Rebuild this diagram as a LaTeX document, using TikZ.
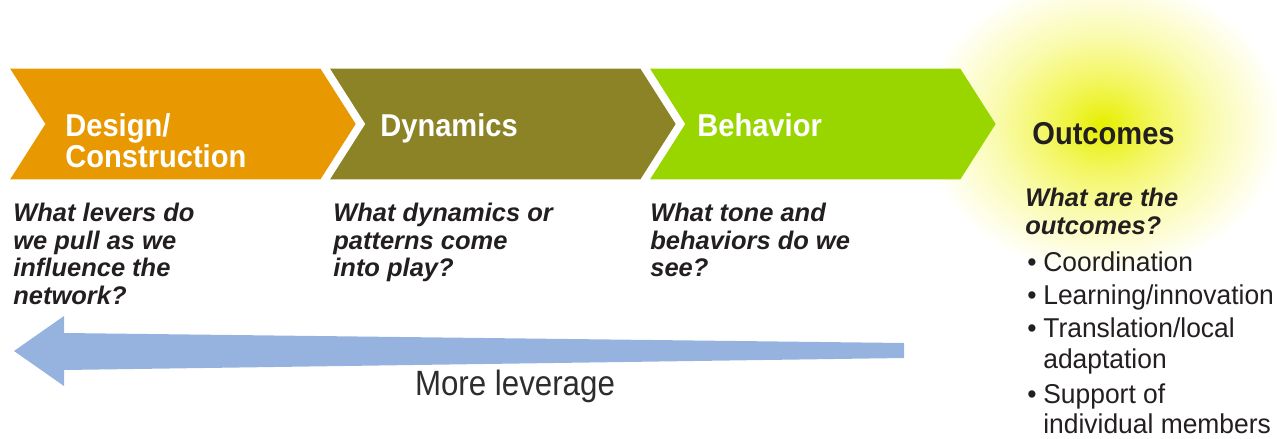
\documentclass[tikz,border=0pt]{standalone}
\usepackage{fontspec}
\setmainfont{Liberation Sans}
\newfontfamily\titlefont[FakeStretch=0.92]{Liberation Sans}
\newfontfamily\listfont[FakeStretch=0.97]{Liberation Sans}
\newfontfamily\leverfont[FakeStretch=0.89]{Liberation Sans}
\usetikzlibrary{shapes.symbols,positioning}

\definecolor{designorange}{RGB}{232,152,0}
\definecolor{dynolive}{RGB}{140,130,38}
\definecolor{behavgreen}{RGB}{153,214,0}
\definecolor{leverblue}{RGB}{149,179,222}
\definecolor{inkdark}{RGB}{35,31,32}
\definecolor{levergrey}{RGB}{45,45,45}
\definecolor{glowcore}{RGB}{230,238,0}
\definecolor{glowmid}{RGB}{242,246,90}
\definecolor{glowpale}{RGB}{250,251,175}

% yellow halo, white from 25bp on
\pgfdeclareradialshading{outglow}{\pgfpoint{0bp}{0bp}}{%
  color(0bp)=(glowcore); color(7bp)=(glowmid); color(15bp)=(glowpale);
  color(25bp)=(white); color(50bp)=(white)}

% bullet with a fixed hang
\newcommand{\dotitem}{\makebox[0.32cm][l]{\textbullet}}

\begin{document}
\begin{tikzpicture}[x=0.02cm, y=-0.02cm, node distance=6.4cm]
  \tikzstyle{chevron} = [signal, signal to=east, signal from=west,
    signal pointer angle=115, minimum height=2.22cm, text width=4.7cm,
    inner xsep=0.4cm, inner ysep=0pt]
  \tikzstyle{title} = [anchor=north west, inner sep=0pt, align=left, text=white,
    font=\titlefont\bfseries\fontsize{18}{17.5}\selectfont]
  \tikzstyle{question} = [anchor=north west, inner sep=0pt, align=left,
    text=inkdark, font=\bfseries\itshape\fontsize{14.5}{15.6}\selectfont]
  \tikzstyle{lever} = [fill=leverblue]

  \useasboundingbox (0,0) rectangle (1277,439);
  \clip (0,0) rectangle (1277,439);

  % Glow behind the outcomes
  \shade [shading=outglow] (1103,125) ellipse [x radius=180, y radius=150];

  % Place nodes
  \node [chevron, fill=designorange, anchor=west] (design) at (45,124) {};
  \node [chevron, fill=dynolive, right of=design] (dynamics) {};
  \node [chevron, fill=behavgreen, right of=dynamics] (behavior) {};

  \node [title] (designlbl) at (65,113) {Design/\\Construction};
  \node [title] (dynlbl) at (380,113) {Dynamics};
  \node [title] (behavlbl) at (697,113) {Behavior};

  \node [question] (leversq) at (13,203) {What levers do\\we pull as we\\influence the\\network?};
  \node [question] (dynq) at (333,203) {What dynamics or\\patterns come\\into play?};
  \node [question] (toneq) at (650,203) {What tone and\\behaviors do we\\see?};

  \node [anchor=base west, inner sep=0pt, text=inkdark,
    font=\titlefont\bfseries\fontsize{18}{18}\selectfont] (outcomes) at (1032,144) {Outcomes};
  \node [question] (outq) at (1025,188) {What are the\\outcomes?};
  \node [anchor=north west, inner sep=0pt, align=left, text=inkdark,
    font=\listfont\fontsize{15.5}{17.4}\selectfont] (outlist) at (1027,251)
    {\dotitem Coordination\\[1.5pt]
     \dotitem Learning/innovation\\[1.5pt]
     \dotitem Translation/local\\
     \hspace*{0.32cm}adaptation\\[2.5pt]
     \dotitem Support of\\
     \hspace*{0.32cm}individual members};

  % Leverage arrow
  \coordinate (levertip) at (14,351);
  \fill [lever] (levertip) -- (64,316) -- (64,333) -- (904,343) -- (904,358)
    -- (64,370) -- (64,386) -- cycle;
  \node [font=\leverfont\fontsize{20}{22}\selectfont, text=levergrey] (leverage) at (515,386) {More leverage};
\end{tikzpicture}
\end{document}
